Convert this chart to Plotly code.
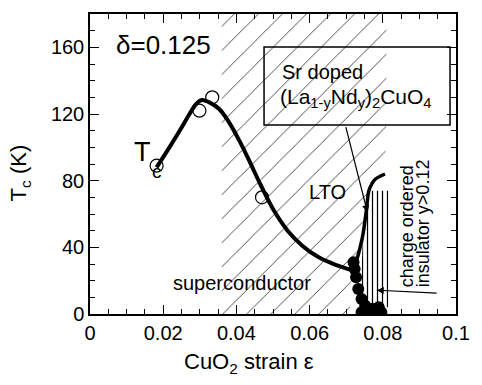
import plotly.graph_objects as go

# ---- data ----
tc_curve_x = [0.0182, 0.0217, 0.0245, 0.0272, 0.0290, 0.0305, 0.0326, 0.0353, 0.0380, 0.0408,
              0.0435, 0.0465, 0.0500, 0.0540, 0.0580, 0.0625, 0.0671, 0.0715]
tc_curve_y = [88, 100, 110, 120, 126, 128.4, 127, 123, 115, 104,
              92, 78, 63, 50, 41, 34, 29.5, 26.4]

lto_x = [0.0715, 0.0728, 0.0738, 0.0746, 0.0755, 0.0762, 0.0770, 0.0780, 0.0806]
lto_y = [26, 32, 40, 48, 62, 74, 78, 81, 84]

open_x = [0.0182, 0.0299, 0.0334, 0.0470]
open_y = [89, 122, 130, 70]

filled_x = [0.0720, 0.0723, 0.0727, 0.0733, 0.0742, 0.0752, 0.0762, 0.0770, 0.0780, 0.0789, 0.0742, 0.0760, 0.0796]
filled_y = [31, 27, 22, 15, 9, 5, 3, 3, 3, 4, 1, 1, 1]

hatch_x = [0.036, 0.081, 0.081, 0.0806, 0.0780, 0.0762, 0.0755, 0.0746, 0.0738, 0.0728, 0.0715, 0.0710, 0.036]
hatch_y = [180, 180, 120, 84, 81, 74, 62, 48, 40, 32, 26, 0, 0]

co_x = [0.0762, 0.0815, 0.0815, 0.0738, 0.0746, 0.0755, 0.0762]
co_y = [74, 74, 4, 4, 48, 62, 74]

x_range = [0, 0.1]
y_range = [0, 180]

# ---- layout geometry helpers (pixel -> paper) ----
L, R, T, B = 90, 458, 14, 314
W, H = 482, 385


def px(x):
    return (x - L) / (R - L)


def py(y):
    return (B - y) / (B - T)


FONT = "Liberation Sans, Arial, Helvetica, sans-serif"

fig = go.Figure()

# hatched (///) region
fig.add_trace(go.Scatter(
    x=hatch_x, y=hatch_y, mode="lines", fill="toself",
    line=dict(width=0, color="rgba(0,0,0,0)"),
    fillcolor="rgba(0,0,0,0)",
    fillpattern=dict(shape="/", size=17, solidity=0.05, fgcolor="rgba(0,0,0,0.8)",
                     bgcolor="rgba(0,0,0,0)", fillmode="replace"),
    hoverinfo="skip", showlegend=False))

# charge-ordered (|||) region
fig.add_trace(go.Scatter(
    x=co_x, y=co_y, mode="lines", fill="toself",
    line=dict(width=0, color="rgba(0,0,0,0)"),
    fillcolor="rgba(0,0,0,0)",
    fillpattern=dict(shape="|", size=5, solidity=0.25, fgcolor="black",
                     bgcolor="rgba(0,0,0,0)", fillmode="replace"),
    hoverinfo="skip", showlegend=False))

# Tc curve
fig.add_trace(go.Scatter(x=tc_curve_x, y=tc_curve_y, mode="lines",
                         line=dict(color="black", width=4, shape="spline", smoothing=1),
                         showlegend=False))
# LTO boundary
fig.add_trace(go.Scatter(x=lto_x, y=lto_y, mode="lines",
                         line=dict(color="black", width=3.5, shape="spline"),
                         showlegend=False))
# open circles
fig.add_trace(go.Scatter(x=open_x, y=open_y, mode="markers",
                         marker=dict(symbol="circle-open", size=13, color="black",
                                     line=dict(width=1.2, color="black")),
                         showlegend=False))
# filled circles
fig.add_trace(go.Scatter(x=filled_x, y=filled_y, mode="markers",
                         marker=dict(symbol="circle", size=12, color="black"),
                         showlegend=False))

axis_common = dict(
    showline=True, linecolor="black", linewidth=1.5, mirror="allticks",
    ticks="inside", ticklen=9, tickwidth=1.2, tickcolor="black",
    showgrid=False, zeroline=False,
    tickfont=dict(family=FONT, size=20, color="black"),
)

fig.update_xaxes(range=x_range, dtick=0.02, tick0=0,
                 minor=dict(dtick=0.005, ticks="inside", ticklen=5, tickcolor="black", tickwidth=1.2),
                 **axis_common)
fig.update_yaxes(range=y_range, dtick=40, tick0=0,
                 minor=dict(dtick=10, ticks="inside", ticklen=5, tickcolor="black", tickwidth=1.2),
                 **axis_common)

ann = []


def text(x, y, s, size=20, angle=0, xanchor="center", yanchor="middle", align="center"):
    ann.append(dict(x=px(x), y=py(y), xref="paper", yref="paper", text=s, showarrow=False,
                    font=dict(family=FONT, size=size, color="black"), textangle=angle,
                    xanchor=xanchor, yanchor=yanchor, align=align))


text(164, 45, "δ=0.125", size=26)
text(143, 152, "T", size=27)
text(157, 171, "c", size=19)
text(281, 72, "Sr doped", size=20, xanchor="left")
text(279, 98, "(La<sub>1-y</sub>Nd<sub>y</sub>)<sub>2</sub>CuO<sub>4</sub>", size=21, xanchor="left")
text(329, 192, "LTO", size=20)
text(243, 283, "superconductor", size=20)
text(409, 289, "charge ordered", size=18, angle=-90, yanchor="bottom")
text(425, 289, "insulator y>0.12", size=18, angle=-90, yanchor="bottom")
text(250, 363, "CuO<sub>2</sub> strain ε", size=22)
text(20, 173, "T<sub>c</sub> (K)", size=22, angle=-90)

# arrows
ann.append(dict(x=0.0758, y=61, ax=0.0698, ay=113, xref="x", yref="y", axref="x", ayref="y",
                showarrow=True, arrowhead=2, arrowsize=1.2, arrowwidth=1.2, arrowcolor="black", text=""))
ann.append(dict(x=0.0783, y=14.3, ax=0.0951, ay=12.5, xref="x", yref="y", axref="x", ayref="y",
                showarrow=True, arrowhead=2, arrowsize=1.2, arrowwidth=1.2, arrowcolor="black", text=""))

fig.update_layout(
    width=W, height=H,
    margin=dict(l=L, r=W - R, t=T, b=H - B, pad=0),
    paper_bgcolor="white", plot_bgcolor="white",
    annotations=ann,
    shapes=[dict(type="rect", xref="paper", yref="paper",
                 x0=px(265), x1=px(452), y0=py(125), y1=py(47),
                 line=dict(color="black", width=1.5), fillcolor="rgba(0,0,0,0)")],
    font=dict(family=FONT, color="black"),
)

fig.write_html("out.html")
